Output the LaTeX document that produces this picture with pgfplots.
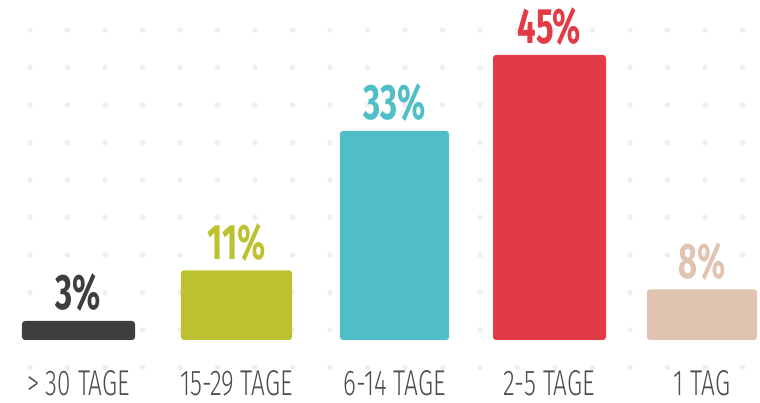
\documentclass[border=0pt]{standalone}
\usepackage{pgfplots}
\pgfplotsset{compat=1.18}
\usepackage{fontspec}
\setmainfont{Fira Sans}
\newfontfamily\valfont{Fira Sans}[FakeStretch=0.66]
\newfontfamily\catfont{Fira Sans Light}[FakeStretch=0.68]
\definecolor{cA}{HTML}{3E3E40}
\definecolor{cB}{HTML}{BCC22F}
\definecolor{cC}{HTML}{4FBEC6}
\definecolor{cD}{HTML}{E23A47}
\definecolor{cE}{HTML}{E0C3B0}
\definecolor{dotc}{HTML}{EFEFEF}
\definecolor{labgray}{HTML}{4D4D4F}
\begin{document}
\begin{tikzpicture}
\useasboundingbox (0,0) rectangle (760bp,403bp);
\foreach \i in {0,...,19}{
  \foreach \j in {0,...,9}{
    \fill[dotc] ({(30+37.5*\i)*1bp},{(373-37.5*\j)*1bp}) circle (2.8bp);
  }
}
\begin{axis}[
  at={(0,0)}, anchor=south west,
  scale only axis, width=760bp, height=403bp,
  xmin=0, xmax=760, ymin=-9.95, ymax=53.68,
  axis line style={draw=none},
  major tick length=0pt,
  ytick=\empty,
  /pgf/number format/assume math mode=true,
  xtick={78.5,236.5,394.5,549.5,702},
  xticklabels={{> 30 TAGE},{15-29 TAGE},{6-14 TAGE},{2-5 TAGE},{1 TAG}},
  x tick label style={font=\catfont\fontsize{36}{36}\selectfont, text=labgray, anchor=base, inner sep=0pt, text depth=0pt, yshift=8bp},
  clip=false,
  every axis plot/.append style={ybar, bar shift=0pt, draw=none, rounded corners=3bp},
  nodes near coords={\pgfmathprintnumber[assume math mode=true]{\pgfplotspointmeta}\%},
  every node near coord/.append style={font=\valfont\bfseries\fontsize{50}{50}\selectfont, anchor=base, inner sep=0pt, yshift=11bp},
]
\addplot[fill=cA, bar width=113bp, every node near coord/.append style={text=cA}] coordinates {(78.5,3)};
\addplot[fill=cB, bar width=111bp, every node near coord/.append style={text=cB}] coordinates {(236.5,11)};
\addplot[fill=cC, bar width=109bp, every node near coord/.append style={text=cC}] coordinates {(394.5,33)};
\addplot[fill=cD, bar width=113bp, every node near coord/.append style={text=cD}] coordinates {(549.5,45)};
\addplot[fill=cE, bar width=110bp, every node near coord/.append style={text=cE}] coordinates {(702,8)};
\end{axis}
\end{tikzpicture}
\end{document}
